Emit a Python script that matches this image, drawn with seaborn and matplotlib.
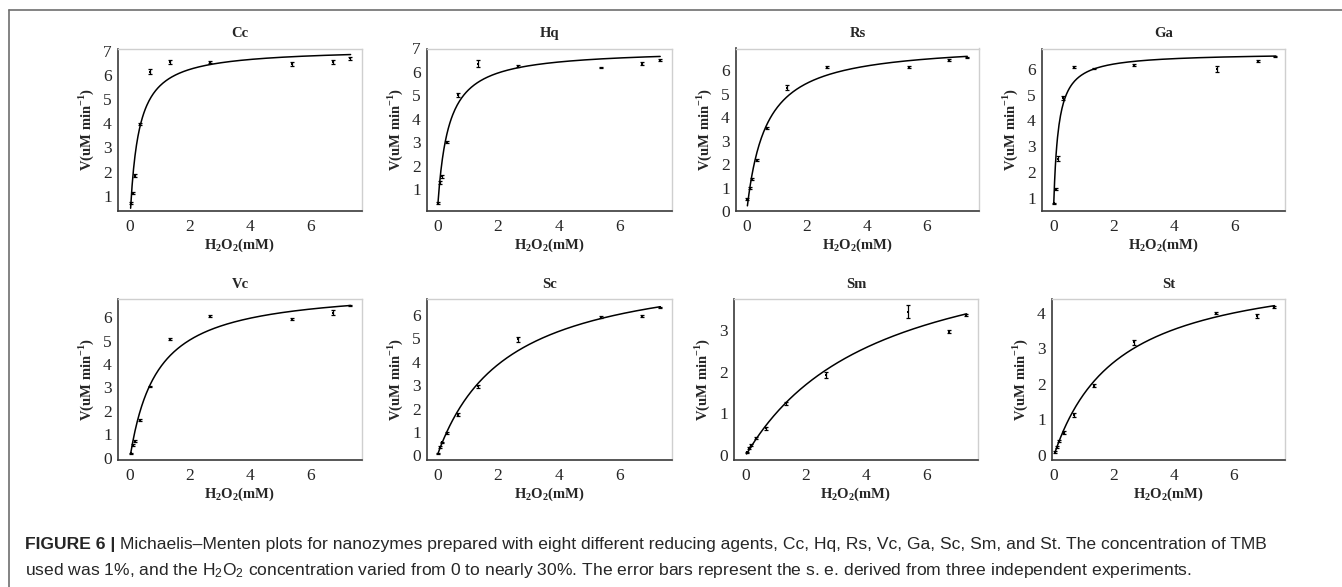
import numpy as np
import pandas as pd
import matplotlib
matplotlib.use("Agg")
import matplotlib.pyplot as plt
from matplotlib.lines import Line2D
import seaborn as sns

# ---- data: substrate concentration (mM) and initial rates (uM/min) ----
h2o2_mM = [0.02, 0.09, 0.17, 0.33, 0.67, 1.33, 2.67, 5.40, 6.75, 7.33]

agents = ["Cc", "Hq", "Rs", "Ga", "Vc", "Sc", "Sm", "St"]

rate_Cc = [0.70, 1.10, 1.82, 3.98, 6.15, 6.55, 6.55, 6.45, 6.55, 6.70]
rate_Hq = [0.42, 1.28, 1.55, 3.00, 5.02, 6.35, 6.25, 6.18, 6.35, 6.52]
rate_Rs = [0.50, 0.98, 1.35, 2.18, 3.55, 5.25, 6.12, 6.13, 6.42, 6.53]
rate_Ga = [0.78, 1.35, 2.52, 4.88, 6.08, 6.02, 6.16, 6.00, 6.32, 6.48]
rate_Vc = [0.18, 0.54, 0.71, 1.61, 3.04, 5.06, 6.05, 5.93, 6.20, 6.50]
rate_Sc = [0.07, 0.36, 0.55, 0.96, 1.74, 2.95, 4.96, 5.93, 5.96, 6.33]
rate_Sm = [0.06, 0.16, 0.24, 0.40, 0.64, 1.24, 1.92, 3.44, 2.96, 3.36]
rate_St = [0.09, 0.23, 0.39, 0.63, 1.13, 1.95, 3.16, 3.98, 3.90, 4.15]

se_Cc = [0.03, 0.05, 0.06, 0.04, 0.10, 0.10, 0.06, 0.08, 0.07, 0.06]
se_Hq = [0.03, 0.06, 0.06, 0.04, 0.08, 0.15, 0.04, 0.03, 0.07, 0.05]
se_Rs = [0.05, 0.05, 0.05, 0.05, 0.04, 0.10, 0.04, 0.04, 0.04, 0.03]
se_Ga = [0.03, 0.04, 0.10, 0.08, 0.04, 0.03, 0.04, 0.10, 0.04, 0.03]
se_Vc = [0.03, 0.04, 0.04, 0.06, 0.04, 0.04, 0.03, 0.03, 0.10, 0.03]
se_Sc = [0.03, 0.04, 0.04, 0.04, 0.05, 0.05, 0.10, 0.04, 0.04, 0.03]
se_Sm = [0.02, 0.02, 0.02, 0.02, 0.03, 0.04, 0.08, 0.15, 0.03, 0.02]
se_St = [0.02, 0.02, 0.03, 0.04, 0.06, 0.04, 0.06, 0.03, 0.06, 0.02]

# fitted Michaelis-Menten parameters
vmax = [7.12, 6.97, 7.15, 6.63, 7.30, 8.35, 5.42, 5.42]
km = [0.28, 0.34, 0.63, 0.14, 0.90, 2.30, 4.42, 2.15]

rates = [rate_Cc, rate_Hq, rate_Rs, rate_Ga, rate_Vc, rate_Sc, rate_Sm, rate_St]
errors = [se_Cc, se_Hq, se_Rs, se_Ga, se_Vc, se_Sc, se_Sm, se_St]

y_ticks = [range(1, 8), range(1, 8), range(0, 7), range(1, 7),
           range(0, 7), range(0, 7), range(0, 4), range(0, 5)]
x_ticks = [0, 2, 4, 6]

# ---- styling ----
sns.set_theme(style="white")
plt.rcParams["font.family"] = ["Liberation Serif", "DejaVu Serif"]
plt.rcParams["mathtext.fontset"] = "custom"
plt.rcParams["mathtext.rm"] = "Liberation Serif"
plt.rcParams["mathtext.bf"] = "Liberation Serif:bold"
plt.rcParams["mathtext.sf"] = "Liberation Sans"

W, H = 1342, 587
fig = plt.figure(figsize=(W / 100, H / 100), dpi=100)
fig.patch.set_facecolor("white")

# axes boxes in pixels: left, top, right, bottom
boxes = [
    (118, 48.5, 362, 211), (427, 48.5, 672, 211), (736, 48.5, 979, 211), (1042, 48.5, 1285, 211),
    (118, 299, 362, 460), (427, 299, 672, 460), (734, 299, 978, 460), (1052, 299, 1285, 460),
]
xlims = [(-0.40, 7.73), (-0.34, 7.74), (-0.36, 7.74), (-0.37, 7.65),
         (-0.40, 7.73), (-0.34, 7.74), (-0.40, 7.73), (-0.07, 7.70)]
ylims = [(0.36, 7.11), (0.08, 7.0), (0.0, 6.92), (0.48, 6.80),
         (-0.10, 6.78), (-0.20, 6.69), (-0.12, 3.74), (-0.14, 4.38)]

s_grid = np.linspace(0.02, 7.35, 300)

for i, name in enumerate(agents):
    l, t, r, b = boxes[i]
    ax = fig.add_axes([l / W, (H - b) / H, (r - l) / W, (b - t) / H])
    ax.set_facecolor("white")

    df = pd.DataFrame({"S": h2o2_mM, "V": rates[i], "se": errors[i]})
    fit = pd.DataFrame({"S": s_grid, "V": vmax[i] * s_grid / (km[i] + s_grid)})

    sns.lineplot(data=fit, x="S", y="V", ax=ax, color="black", lw=1.1)
    ax.errorbar(df["S"], df["V"], yerr=df["se"], fmt="none", ecolor="black",
                elinewidth=0.9, capsize=1.2, capthick=0.9)
    sns.scatterplot(data=df, x="S", y="V", ax=ax, marker="s", s=4,
                    color="black", edgecolor="black", linewidth=0)

    ax.set_xlim(*xlims[i])
    ax.set_ylim(*ylims[i])
    ax.set_xticks(x_ticks)
    ax.set_yticks(list(y_ticks[i]))
    ax.tick_params(axis="both", which="major", length=4, width=0.9,
                   color="#444444", labelsize=12.5, pad=0.5, direction="out")
    ax.tick_params(axis="x", pad=1.5)
    for side in ("left", "bottom"):
        ax.spines[side].set_color("#3a3a3a")
        ax.spines[side].set_linewidth(1.2)
    for side in ("top", "right"):
        ax.spines[side].set_color("#cfcfcf")
        ax.spines[side].set_linewidth(1.0)

    ax.set_title(name, fontsize=10.5, fontweight="bold", pad=8)
    ax.set_xlabel(r"$\mathbf{H_2O_2}$(mM)", fontsize=10.5, fontweight="bold", labelpad=1.5)
    ax.set_ylabel(r"V(uM min$^{\mathbf{-1}}$)", fontsize=10.5, fontweight="bold", labelpad=5)

# frame lines along the left and top of the figure panel
fig.add_artist(Line2D([9 / W, 9 / W], [0, (H - 10) / H], color="#6e6e6e", lw=1.2))
fig.add_artist(Line2D([9 / W, 1], [(H - 10) / H, (H - 10) / H], color="#6e6e6e", lw=1.2))

# caption
cap_font = ["Liberation Sans", "DejaVu Sans"]
cap_size = 12.6
head = fig.text(25 / W, (H - 545) / H, "FIGURE 6 |", fontsize=cap_size, fontweight="bold",
                family=cap_font, va="center", ha="left")
fig.canvas.draw()
bb = head.get_window_extent()
fig.text((bb.x1 + 5) / W, (H - 545) / H,
         "Michaelis\u2013Menten plots for nanozymes prepared with eight different reducing agents, "
         "Cc, Hq, Rs, Vc, Ga, Sc, Sm, and St. The concentration of TMB",
         fontsize=cap_size, family=cap_font, va="center", ha="left")
fig.text(25 / W, (H - 571) / H,
         r"used was 1%, and the $\mathsf{H_2O_2}$ concentration varied from 0 to nearly 30%. "
         "The error bars represent the s. e. derived from three independent experiments.",
         fontsize=cap_size, family=cap_font, va="center", ha="left")

fig.savefig("out.png", dpi=100, facecolor="white")
